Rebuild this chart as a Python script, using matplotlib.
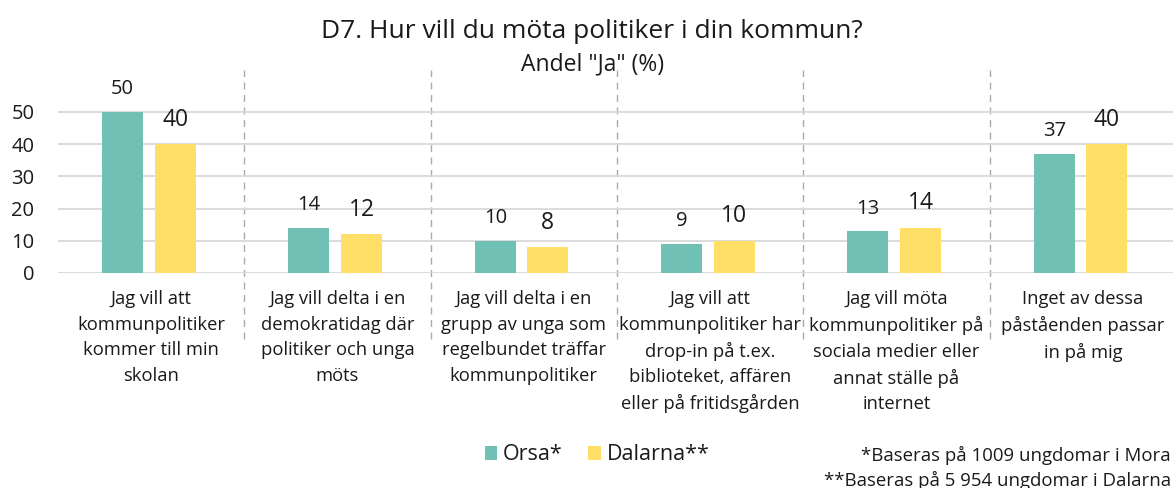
import numpy as np
import matplotlib
matplotlib.use('Agg')
import matplotlib.pyplot as plt

plt.rcParams['font.family'] = ['Open Sans', 'DejaVu Sans']

# data
categories = [
    'Jag vill att\nkommunpolitiker\nkommer till min\nskolan',
    'Jag vill delta i en\ndemokratidag där\npolitiker och unga\nmöts',
    'Jag vill delta i en\ngrupp av unga som\nregelbundet träffar\nkommunpolitiker',
    'Jag vill att\nkommunpolitiker har\ndrop-in på t.ex.\nbiblioteket, affären\neller på fritidsgården',
    'Jag vill möta\nkommunpolitiker på\nsociala medier eller\nannat ställe på\ninternet',
    'Inget av dessa\npåståenden passar\nin på mig',
]
orsa = [50, 14, 10, 9, 13, 37]
dalarna = [40, 12, 8, 10, 14, 40]
yticks = [0, 10, 20, 30, 40, 50]

c_orsa = '#70C1B3'
c_dal = '#FFDF67'
txt = '#1a1a1a'

fig = plt.figure(figsize=(11.73, 4.88), dpi=100)
ax = fig.add_axes([58 / 1173, 0.4406, 1118 / 1173, 0.416])

x = np.arange(len(categories))
w = 0.22
off = 0.141
shift = -0.012
b1 = ax.bar(x - off + shift, orsa, w, color=c_orsa, zorder=3, label='Orsa*')
b2 = ax.bar(x + off + shift, dalarna, w, color=c_dal, zorder=3, label='Dalarna**')

for rect, v in zip(b1, orsa):
    ax.annotate(str(v), (rect.get_x() + rect.get_width() / 2, v),
                xytext=(0, 9), textcoords='offset points',
                ha='center', va='bottom', fontsize=14.5, color=txt)
for rect, v in zip(b2, dalarna):
    ax.annotate(str(v), (rect.get_x() + rect.get_width() / 2, v),
                xytext=(0, 9), textcoords='offset points',
                ha='center', va='bottom', fontsize=16.5, color=txt)

ax.set_xlim(-0.5, len(categories) - 0.5)
ax.set_ylim(0, 63)
ax.set_yticks(yticks)
ax.tick_params(axis='y', length=0, pad=17, labelsize=14.5, labelcolor=txt)
ax.set_xticks([])
ax.grid(axis='y', color='#d9d9d9', linewidth=1.3, zorder=0)
for s in ax.spines.values():
    s.set_visible(False)

# dashed separators between groups
for i in range(1, len(categories)):
    ax.plot([i - 0.5, i - 0.5], [-20.5, 63], color='#aaaaaa', linestyle=(0, (5, 4)),
            linewidth=1, clip_on=False, zorder=1)

for i, lab in enumerate(categories):
    ax.text(i, -5.3, lab, ha='center', va='top', fontsize=13.2,
            color=txt, linespacing=1.54)

fig.text(0.505, 0.936, 'D7. Hur vill du möta politiker i din kommun?',
         ha='center', va='center', fontsize=19, color=txt)
fig.text(0.505, 0.869, 'Andel "Ja" (%)', ha='center', va='center',
         fontsize=16.5, color=txt)

fig.legend(handles=[b1, b2], loc='center', bbox_to_anchor=(0.509, 0.068),
           ncol=2, frameon=False, fontsize=15.5, handlelength=0.6, handleheight=0.6,
           handletextpad=0.25, columnspacing=1.2, labelcolor=txt)

fig.text(0.998, 0.066, '*Baseras på 1009 ungdomar i Mora', ha='right', va='center',
         fontsize=13.4, color=txt)
fig.text(0.998, 0.016, '**Baseras på 5 954 ungdomar i Dalarna', ha='right', va='center',
         fontsize=13.4, color=txt)

fig.savefig('out.png', dpi=100)
